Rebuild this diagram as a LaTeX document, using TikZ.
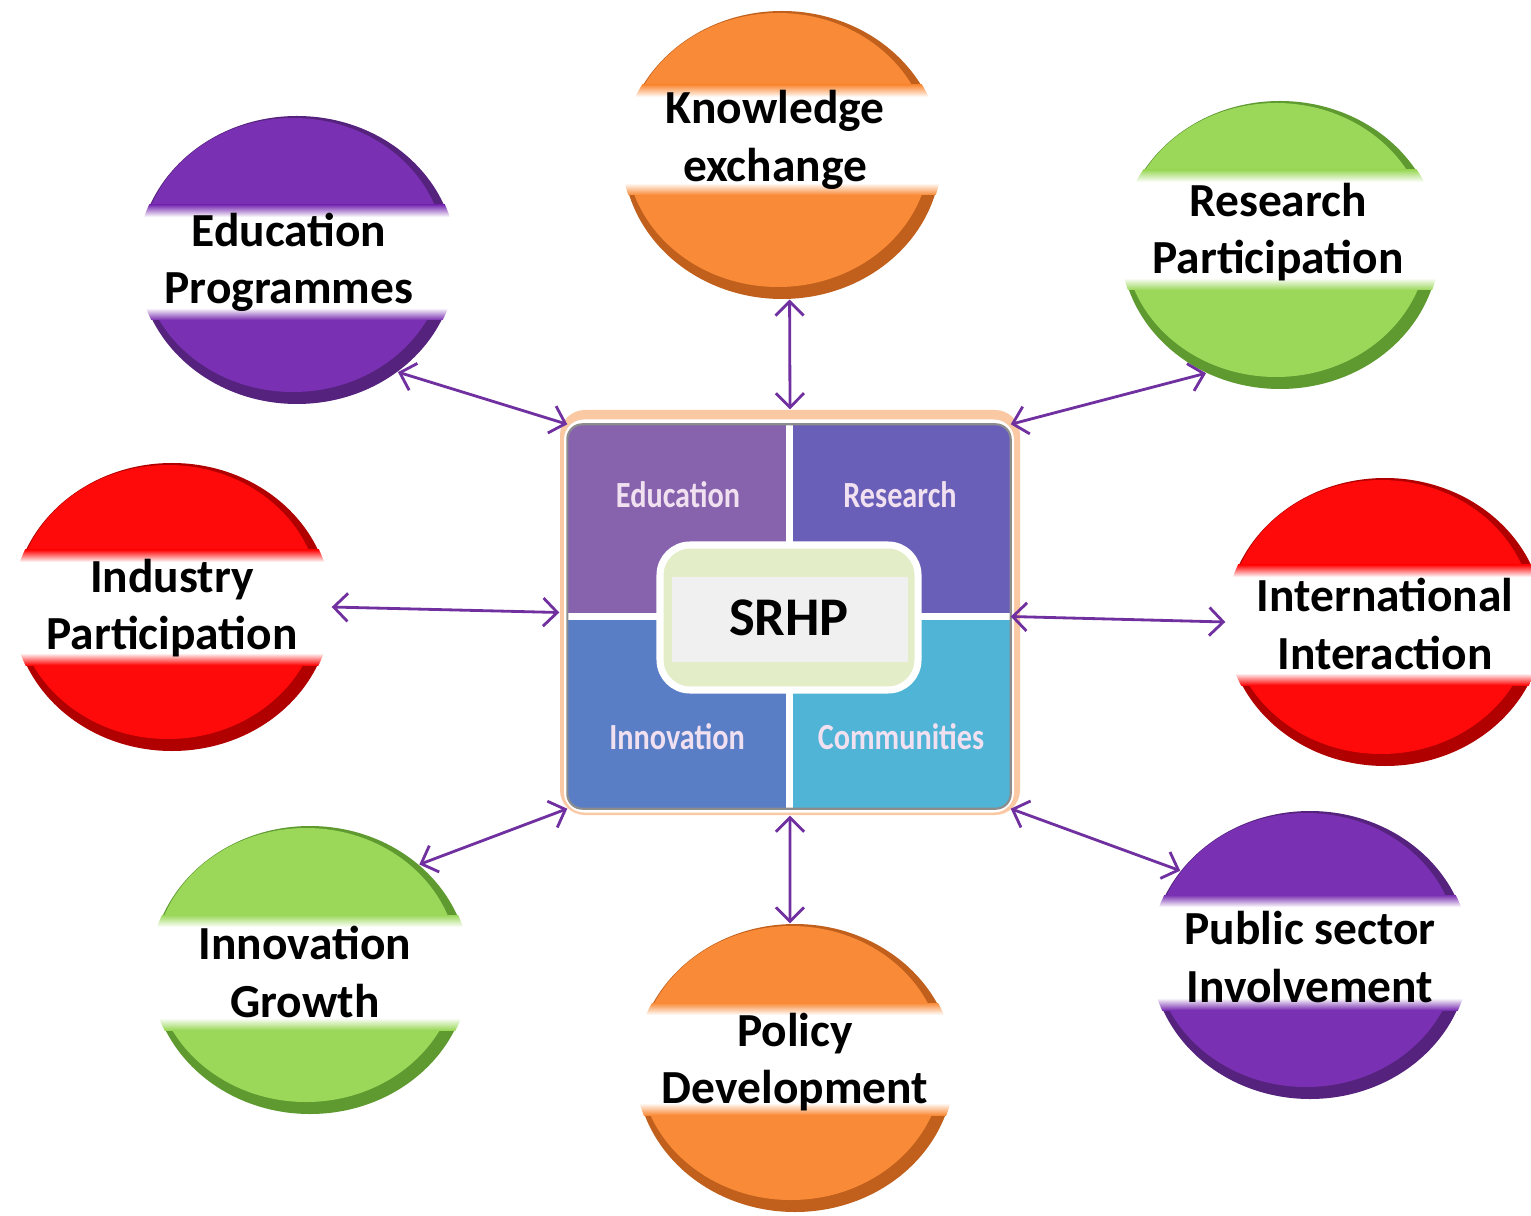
\documentclass[tikz,border=0pt]{standalone}
\usepackage{fontspec}
\setmainfont{Carlito}
\usepackage{tikz}
\usetikzlibrary{shapes.geometric}
\usetikzlibrary{arrows.meta}

\definecolor{purmain}{HTML}{7A30B2}
\definecolor{purrim}{HTML}{55237E}
\definecolor{orgmain}{HTML}{F98B38}
\definecolor{orgrim}{HTML}{C0601C}
\definecolor{grnmain}{HTML}{9BD85A}
\definecolor{grnrim}{HTML}{5E9A30}
\definecolor{redmain}{HTML}{FF0A0A}
\definecolor{redrim}{HTML}{B00000}
\definecolor{arrowc}{HTML}{7030A0}
\definecolor{peach}{HTML}{FAC8A2}
\definecolor{qeduc}{HTML}{8763AE}
\definecolor{qresc}{HTML}{6A5FB8}
\definecolor{qinnc}{HTML}{5A7EC6}
\definecolor{qcomc}{HTML}{50B4D6}
\definecolor{srhpgreen}{HTML}{E3EEC8}
\definecolor{srhpgrey}{HTML}{F0F0F0}

\tikzset{
  bubble/.style={ellipse, minimum width=3.18cm, minimum height=2.88cm, inner sep=0pt},
  bubtext/.style={align=center, font=\fontsize{13.5}{16.3}\selectfont\bfseries, text=black},
  quadtext/.style={font=\fontsize{10.5}{12}\selectfont\bfseries, text=white!88!violet},
  link/.style={draw=arrowc, line width=0.8pt,
    {Straight Barb[length=4pt,width=8pt]}-{Straight Barb[length=4pt,width=8pt]}},
}

\begin{document}
\begin{tikzpicture}
   \useasboundingbox (0,0) rectangle (15.31,12.15);

   % bubbles
   \foreach \nm/\px/\py/\bt/\bb/\main/\rim/\tx/\ty/\txt in {
      know/7.82/10.60/11.30/10.20/orgmain/orgrim/7.75/10.75/{Knowledge\\exchange},
      edu/2.97/9.55/10.10/8.95/purmain/purrim/2.89/9.53/{Education\\Programmes},
      res/12.80/9.70/10.45/9.25/grnmain/grnrim/12.78/9.83/{Research\\Participation},
      ind/1.72/6.08/6.65/5.50/redmain/redrim/1.72/6.07/{Industry\\Participation},
      intl/13.85/5.93/6.50/5.30/redmain/redrim/13.85/5.91/{International\\Interaction},
      inno/3.10/2.45/3.00/1.85/grnmain/grnrim/3.05/2.43/{Innovation\\Growth},
      pol/7.95/1.47/2.12/1.00/orgmain/orgrim/7.95/1.53/{Policy\\Development},
      pub/13.10/2.60/3.20/2.05/purmain/purrim/13.10/2.58/{Public sector\\Involvement}}
   {
      \node[bubble, fill=\rim] (\nm) at (\px,\py) {};
      \fill[\main] (\px-0.04,\py+0.05) ellipse (1.52 and 1.37);
      \begin{scope}
         \clip (\px,\py) ellipse (1.60 and 1.45);
         \fill[white] (\px-1.7,\bb) rectangle (\px+1.7,\bt);
         \shade[top color=\main, bottom color=white] (\px-1.7,\bt) rectangle (\px+1.7,\bt-0.12);
         \shade[top color=white, bottom color=\main] (\px-1.7,\bb+0.12) rectangle (\px+1.7,\bb);
      \end{scope}
      \node[bubtext] (\nm-t) at (\tx,\ty) {\txt};
   }

   % centre block
   \node[fill=peach, rounded corners=0.25cm, minimum width=4.60cm, minimum height=4.05cm] (hub) at (7.90,6.025) {};
   \node[fill=white, rounded corners=0.2cm, minimum width=4.50cm, minimum height=3.93cm] (hubin) at (7.89,5.99) {};
   \node[rounded corners=0.15cm, minimum width=4.42cm, minimum height=3.83cm] (core) at (7.89,5.985) {};
   \begin{scope}
      \clip[rounded corners=0.15cm] (core.south west) rectangle (core.north east);
      \fill[qeduc] (core.west) rectangle (core.north);
      \fill[qresc] (core.north) rectangle (core.east);
      \fill[qinnc] (core.south west) rectangle (core.center);
      \fill[qcomc] (core.south) rectangle (core.east);
   \end{scope}
   \draw[white, line width=2pt] (core.north) -- (core.south);
   \draw[white, line width=2pt] (core.west) -- (core.east);
   \draw[black!45, line width=0.6pt, rounded corners=0.15cm] (core.south west) rectangle (core.north east);

   \node[quadtext] (q-edu) at (6.78,7.20) {\scalebox{0.82}[1]{Education}};
   \node[quadtext] (q-res) at (9.00,7.20) {\scalebox{0.82}[1]{Research}};
   \node[quadtext] (q-inn) at (6.77,4.78) {\scalebox{0.82}[1]{Innovation}};
   \node[quadtext] (q-com) at (9.01,4.78) {\scalebox{0.82}[1]{Communities}};

   \node[fill=srhpgreen, draw=white, line width=2pt, rounded corners=0.3cm,
         minimum width=2.58cm, minimum height=1.45cm] (srhp) at (7.89,5.975) {};
   \fill[srhpgrey] (6.72,5.53) rectangle (9.08,6.38);
   \node[font=\fontsize{15.5}{18}\selectfont\bfseries] (srhp-t) at (srhp) {SRHP};

   % links
   \draw[link] (edu.-48) -- (core.north west);
   \draw[link] (know.-87) -- (hub.north);
   \draw[link] (res.240) -- (core.north east);
   \draw[link] (ind.0) -- (hub.west);
   \draw[link] (core.east) -- (intl.180);
   \draw[link] (inno.44) -- (core.south west);
   \draw[link] (hub.south) -- (pol.92);
   \draw[link] (core.south east) -- (pub.147);
\end{tikzpicture}
\end{document}
